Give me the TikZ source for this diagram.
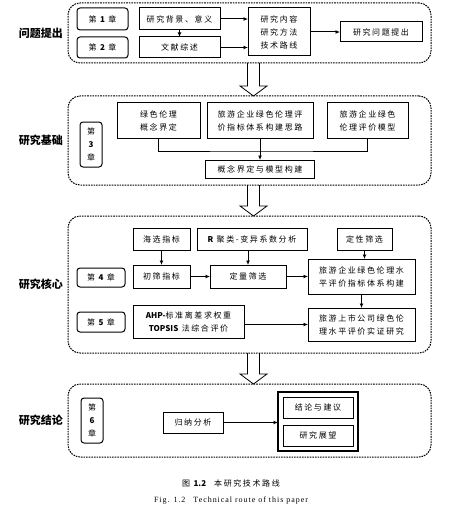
\documentclass[tikz,border=0pt]{standalone}
\usepackage{fontspec}
\setmainfont{Liberation Serif}
\newfontfamily\cjk[LetterSpace=20]{Noto Sans CJK SC}
\newfontfamily\cjkplain{Noto Sans CJK SC}
\newfontfamily\enspaced[LetterSpace=12]{Liberation Serif}
\newcommand\boxtext{\cjk\fontsize{8}{13}\selectfont}
\newcommand\tagtext{\cjkplain\bfseries\fontsize{11}{13}\selectfont}
\newcommand\latinbf[1]{{\cjkplain\bfseries #1}}
\usetikzlibrary{positioning,arrows.meta,fit}

\begin{document}
\begin{tikzpicture}[x=1pt,y=-1pt,
  box/.style={draw,line width=1pt,font=\boxtext,align=center,inner sep=1pt,outer sep=0pt},
  chap/.style={box,rounded corners=3pt},
  panel/.style={draw,line width=1pt,dash pattern=on 1.6pt off 1pt,rounded corners=12pt,
    minimum width=363pt,inner sep=0pt,outer sep=0pt},
  tag/.style={font=\tagtext,inner sep=0pt},
  link/.style={line width=1pt,-{Latex[length=4.5pt,width=4pt]}},
  hollow/.style={draw,line width=0.8pt}]
\useasboundingbox (0,0) rectangle (454,508);

\node[panel,minimum height=60pt] (p1) at (249.5,33) {};
\node[tag,left=5pt of p1] (t1) {问题提出};
\node[chap,minimum width=51pt,minimum height=22pt] (ch1) at (102.5,19) {第 \latinbf{1} 章};
\node[chap,minimum width=51pt,minimum height=21pt,below=7pt of ch1] (ch2) {第 \latinbf{2} 章};
\node[box,minimum width=81pt,minimum height=22pt,right=11pt of ch1] (bg) {研究背景、意义};
\node[box,minimum width=81pt,minimum height=21pt,below=7pt of bg] (lit) {文献综述};
\node[box,minimum width=62pt,minimum height=48pt] (cont) at (279,32) {研究内容\\研究方法\\技术路线};
\node[box,minimum width=82pt,minimum height=20pt,right=30pt of cont] (prob) {研究问题提出};
\draw[link] (bg) -- (lit);
\draw[link] (bg.east) -- (bg.east -| cont.west);
\draw[link] (lit.east) -- (lit.east -| cont.west);
\draw[link] (cont) -- (prob);

\node[panel,minimum height=89pt] (p2) at (249.5,140.5) {};
\node[tag,left=5pt of p2] (t2) {研究基础};
\node[chap,minimum width=22pt,minimum height=45pt] (ch3) at (91,144.5) {第\\\latinbf{3}\\章};
\node[box,minimum width=83pt,minimum height=35pt] (def) at (158.5,120.5) {绿色伦理\\概念界定};
\node[box,minimum width=106pt,minimum height=35pt,right=7pt of def] (idea) {旅游企业绿色伦理评\\价指标体系构建思路};
\node[box,minimum width=81pt,minimum height=35pt,right=14pt of idea] (model) {旅游企业绿色\\伦理评价模型};
\node[box,minimum width=109pt,minimum height=18pt,below=22pt of idea] (build) {概念界定与模型构建};
\path (idea.south) ++(0,13) coordinate (mid);
\draw[line width=1pt] (def.south) |- (mid) -| (model.south);
\draw[link] (idea.south) -- (idea.south |- build.north);

\node[panel,minimum height=137pt] (p3) at (249.5,284.5) {};
\node[tag,left=5pt of p3] (t3) {研究核心};
\node[box,minimum width=57pt,minimum height=22pt] (sea) at (161.5,239) {海选指标};
\node[box,minimum width=110pt,minimum height=22pt,right=7pt of sea] (clus) {\latinbf{R} 聚类-变异系数分析};
\node[box,minimum width=55pt,minimum height=22pt,right=30pt of clus] (qual) {定性筛选};
\node[chap,minimum width=48pt,minimum height=19pt] (ch4) at (101,277.5) {第 \latinbf{4} 章};
\node[box,minimum width=57pt,minimum height=23pt,below=15pt of sea] (pre) {初筛指标};
\node[box,minimum width=76pt,minimum height=23pt,right=20pt of pre] (quan) {定量筛选};
\node[box,minimum width=107pt,minimum height=35pt,right=22pt of quan] (sys) {旅游企业绿色伦理水\\平评价指标体系构建};
\node[chap,minimum width=48pt,minimum height=20pt,below=25pt of ch4] (ch5) {第 \latinbf{5} 章};
\node[box,minimum width=111pt,minimum height=33pt] (ahp) at (188.5,321.5) {\latinbf{AHP-}标准离差求权重\\\latinbf{TOPSIS} 法综合评价};
\node[box,minimum width=107pt,minimum height=33pt,below=14pt of sys] (emp) {旅游上市公司绿色伦\\理水平评价实证研究};
\draw[link] (sea) -- (pre);
\draw[link] (clus.south -| quan) -- (quan);
\draw[link] (qual) -- (qual |- sys.north);
\draw[link] (pre) -- (quan);
\draw[link] (quan.east) -- (quan.east -| sys.west);
\draw[link] (sys) -- (emp);
\draw[link] (ahp.east |- emp) -- (emp.west);

\node[panel,minimum height=73pt] (p4) at (249.5,420.5) {};
\node[tag,left=5pt of p4] (t4) {研究结论};
\node[chap,minimum width=22pt,minimum height=45pt] (ch6) at (92,420.5) {第\\\latinbf{6}\\章};
\node[box,minimum width=60pt,minimum height=21pt] (ind) at (193,422.5) {归纳分析};
\node[box,minimum width=70pt,minimum height=21pt] (conc) at (318,407.5) {结论与建议};
\node[box,minimum width=70pt,minimum height=21pt,below=7pt of conc] (outl) {研究展望};
\node[draw,line width=1.6pt,inner sep=5pt,outer sep=0pt,fit=(conc)(outl)] (res) {};
\draw[link] (ind) -- (ind -| res.west);

\foreach \a/\b in {p1/p2,p2/p3,p3/p4}
  \draw[hollow] ([xshift=-2pt]\a.south) -- ([xshift=-2pt,yshift=10pt]\b.north)
    -- ([xshift=-9.5pt,yshift=10pt]\b.north) -- ([xshift=4pt]\b.north)
    -- ([xshift=17.5pt,yshift=10pt]\b.north) -- ([xshift=10pt,yshift=10pt]\b.north)
    -- ([xshift=10pt]\a.south);

\node[font=\boxtext] (cap1) at (231,483) {图 \latinbf{1.2}\quad 本研究技术路线};
\node[font=\enspaced\fontsize{8}{10}\selectfont] (cap2) at (231,501) {Fig. 1.2\quad Technical route of this paper};
\end{tikzpicture}
\end{document}
